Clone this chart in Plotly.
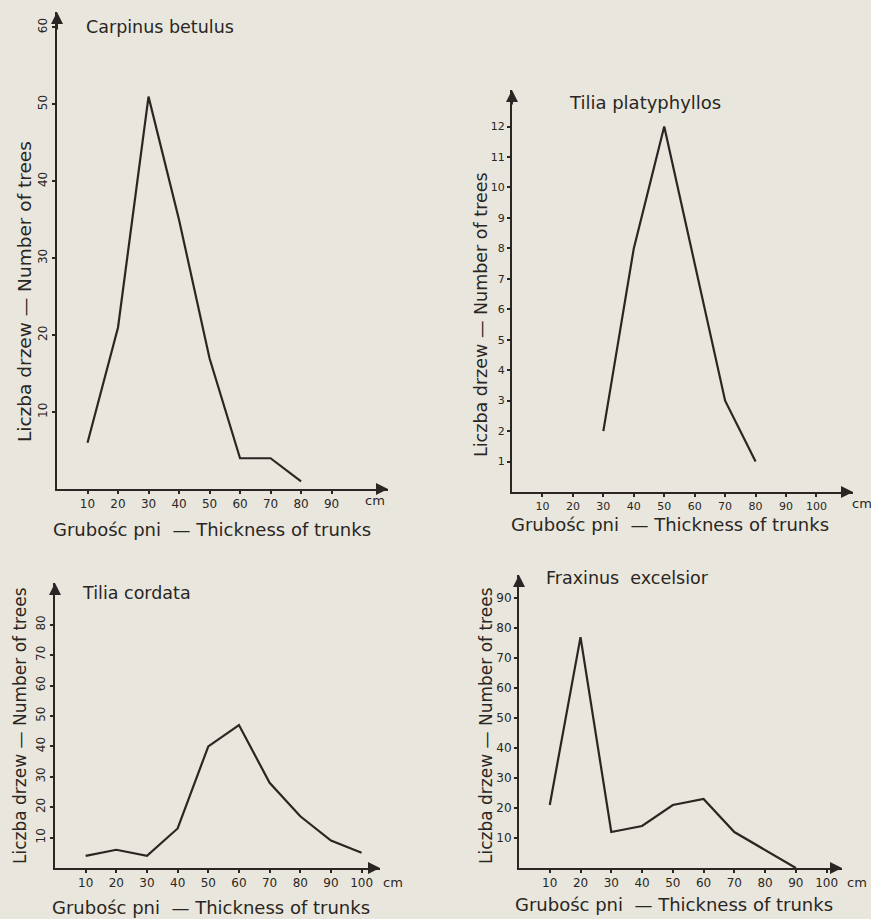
import plotly.graph_objects as go

W, H = 871, 919

# ---- data ----
carpinus_x = [10, 20, 30, 40, 50, 60, 70, 80]
carpinus_y = [6, 21, 51, 35, 17, 4, 4, 1]

platyphyllos_x = [30, 40, 50, 60, 70, 80]
platyphyllos_y = [2, 8, 12, 7.5, 3, 1]

cordata_x = [10, 20, 30, 40, 50, 60, 70, 80, 90, 100]
cordata_y = [4, 6, 4, 13, 40, 47, 28, 17, 9, 5]

fraxinus_x = [10, 20, 30, 40, 50, 60, 70, 80, 90]
fraxinus_y = [21, 77, 12, 14, 21, 23, 12, 6, 0]

x_ticks_9 = [10, 20, 30, 40, 50, 60, 70, 80, 90]
x_ticks_10 = [10, 20, 30, 40, 50, 60, 70, 80, 90, 100]
y_ticks_carpinus = [10, 20, 30, 40, 50, 60]
y_ticks_platyphyllos = list(range(1, 13))
y_ticks_cordata = [10, 20, 30, 40, 50, 60, 70, 80]
y_ticks_fraxinus = [10, 20, 30, 40, 50, 60, 70, 80, 90]

titles = ["Carpinus betulus", "Tilia platyphyllos", "Tilia cordata", "Fraxinus  excelsior"]
ylabel = "Liczba drzew — Number of trees"
xlabel = "Grubośc pni  — Thickness of trunks"
unit = "cm"

INK = "#2a2623"
BG = "#e9e6dd"
FONT = "DejaVu Sans, sans-serif"

def px(x):
    return x / W

def py(y):
    return 1 - y / H

panels = [
    dict(x0=57, x1=388, y0=489, y1=12, xmax=108.5, ymax=62, xt=x_ticks_9, yt=y_ticks_carpinus,
         xs=carpinus_x, ys=carpinus_y, yangle=-90, tfs=12),
    dict(x0=512, x1=853, y0=492, y1=90, xmax=112, ymax=13.2, xt=x_ticks_10, yt=y_ticks_platyphyllos,
         xs=platyphyllos_x, ys=platyphyllos_y, yangle=0, tfs=11),
    dict(x0=55, x1=380, y0=868, y1=583, xmax=106, ymax=93.7, xt=x_ticks_10, yt=y_ticks_cordata,
         xs=cordata_x, ys=cordata_y, yangle=-90, tfs=12),
    dict(x0=519, x1=842, y0=868, y1=575, xmax=105, ymax=97.7, xt=x_ticks_10, yt=y_ticks_fraxinus,
         xs=fraxinus_x, ys=fraxinus_y, yangle=0, tfs=12),
]

fig = go.Figure()
layout = {}
annotations = []

for i, p in enumerate(panels, start=1):
    xa = "x" if i == 1 else f"x{i}"
    ya = "y" if i == 1 else f"y{i}"
    fig.add_trace(go.Scatter(x=p["xs"], y=p["ys"], mode="lines", xaxis=xa, yaxis=ya,
                             line=dict(color=INK, width=2.2), showlegend=False, hoverinfo="skip"))
    common = dict(showgrid=False, zeroline=False, showline=True, linecolor=INK, linewidth=2,
                  ticks="outside", ticklen=3, tickwidth=1.5, tickcolor=INK,
                  tickfont=dict(family=FONT, size=p["tfs"], color=INK), fixedrange=True)
    layout["xaxis" if i == 1 else f"xaxis{i}"] = dict(
        common, domain=[px(p["x0"]), px(p["x1"])], range=[0, p["xmax"]],
        tickvals=p["xt"], ticktext=[str(v) for v in p["xt"]], anchor=ya)
    layout["yaxis" if i == 1 else f"yaxis{i}"] = dict(
        common, domain=[py(p["y0"]), py(p["y1"])], range=[0, p["ymax"]],
        tickvals=p["yt"], ticktext=[str(v) for v in p["yt"]], anchor=xa, tickangle=p["yangle"])
    annotations.append(dict(x=p["xmax"], y=0, ax=p["xmax"] * 0.96, ay=0, xref=xa, yref=ya,
                            axref=xa, ayref=ya, showarrow=True, arrowhead=2, arrowsize=1.2,
                            arrowwidth=2, arrowcolor=INK, text=""))
    annotations.append(dict(x=0, y=p["ymax"], ax=0, ay=p["ymax"] * 0.96, xref=xa, yref=ya,
                            axref=xa, ayref=ya, showarrow=True, arrowhead=2, arrowsize=1.2,
                            arrowwidth=2, arrowcolor=INK, text=""))

def label(text, x, y, size, angle=0, xanchor="center"):
    annotations.append(dict(text=text, x=px(x), y=py(y), xref="paper", yref="paper",
                            showarrow=False, textangle=angle, xanchor=xanchor, yanchor="middle",
                            font=dict(family=FONT, size=size, color=INK)))

label(titles[0], 84, 27, 17.5, xanchor="left")
label(titles[1], 567, 103, 18, xanchor="left")
label(titles[2], 80, 593, 17.5, xanchor="left")
label(titles[3], 544, 578, 17.5, xanchor="left")

label(ylabel, 24, 292, 18.5, angle=-90)
label(ylabel, 481, 315, 17.5, angle=-90)
label(ylabel, 20, 726, 17, angle=-90)
label(ylabel, 486, 726, 17, angle=-90)

label(xlabel, 212, 529, 18)
label(xlabel, 670, 524, 18)
label(xlabel, 211, 907, 18)
label(xlabel, 674, 904, 18)

label(unit, 375, 501, 13)
label(unit, 862, 503, 13)
label(unit, 393, 882, 13)
label(unit, 857, 882, 13)

fig.update_layout(**layout)
fig.update_layout(
    width=W, height=H, margin=dict(l=0, r=0, t=0, b=0),
    paper_bgcolor=BG, plot_bgcolor=BG, annotations=annotations, showlegend=False,
)

fig.write_html("out.html", config={"displayModeBar": False},
               post_script="document.body.style.margin='0';document.body.style.overflow='hidden';")
